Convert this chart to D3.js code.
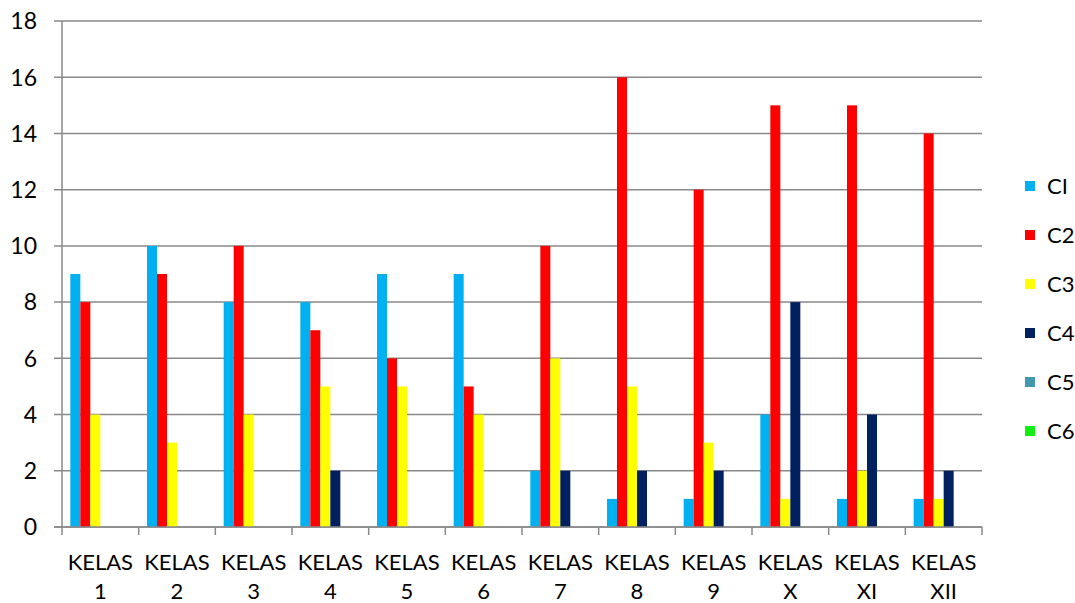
<!DOCTYPE html>
<html>
<head>
<meta charset="utf-8">
<script src="https://cdn.jsdelivr.net/npm/d3@7"></script>
<style>
  html, body { margin: 0; padding: 0; background: #fff; }
  svg { display: block; }
  text { font-family: Lato, "Open Sans", sans-serif; fill: #000; }
</style>
</head>
<body>
<svg id="chart" width="1075" height="603"></svg>
<script>
const categories = ["KELAS 1","KELAS 2","KELAS 3","KELAS 4","KELAS 5","KELAS 6","KELAS 7","KELAS 8","KELAS 9","KELAS X","KELAS XI","KELAS XII"];
const seriesNames = ["CI","C2","C3","C4","C5","C6"];
const c1 = [9,10,8,8,9,9,2,1,1,4,1,1];
const c2 = [8,9,10,7,6,5,10,16,12,15,15,14];
const c3 = [4,3,4,5,5,4,6,5,3,1,2,1];
const c4 = [0,0,0,2,0,0,2,2,2,8,4,2];
const c5 = [0,0,0,0,0,0,0,0,0,0,0,0];
const c6 = [0,0,0,0,0,0,0,0,0,0,0,0];
const yTicks = [0,2,4,6,8,10,12,14,16,18];
const colors = ["#00B0F0","#FF0000","#FFFF00","#002060","#4198AF","#11EE11"];

const seriesValues = [c1,c2,c3,c4,c5,c6];
const svg = d3.select("#chart");
const pLeft = 62, pRight = 982, pTop = 21, pBottom = 527;

const x = d3.scaleBand().domain(categories).range([pLeft, pRight]).padding(0);
const inner = d3.scaleBand().domain(seriesNames)
  .range([x.bandwidth()*0.1087, x.bandwidth()*(1-0.1087)]).padding(0);
const y = d3.scaleLinear().domain([0,18]).range([pBottom, pTop]);

// gridlines
svg.append("g").selectAll("line").data(yTicks).join("line")
  .attr("x1", pLeft - 8).attr("x2", pRight)
  .attr("y1", d => y(d)).attr("y2", d => y(d))
  .attr("stroke", "#898989").attr("stroke-width", 1.5);

// y labels
svg.append("g").selectAll("text").data(yTicks).join("text")
  .attr("x", 37).attr("y", d => y(d)).attr("dy", "0.36em")
  .attr("text-anchor", "end").style("font-size", "23px")
  .text(d => d);

// bars
seriesNames.forEach((s, si) => {
  svg.append("g").selectAll("rect").data(seriesValues[si]).join("rect")
    .attr("x", (d, i) => x(categories[i]) + inner(s))
    .attr("width", inner.bandwidth())
    .attr("y", d => y(d))
    .attr("height", d => y(0) - y(d))
    .attr("fill", colors[si]);
});

// y axis line
svg.append("line").attr("x1", pLeft).attr("x2", pLeft).attr("y1", pTop).attr("y2", pBottom)
  .attr("stroke", "#898989").attr("stroke-width", 1.5);
// x axis line
svg.append("line").attr("x1", pLeft - 8).attr("x2", pRight).attr("y1", pBottom).attr("y2", pBottom)
  .attr("stroke", "#898989").attr("stroke-width", 1.5);
// x ticks
const tickPos = categories.map(c => x(c)).concat([pRight]);
svg.append("g").selectAll("line").data(tickPos).join("line")
  .attr("x1", d => d).attr("x2", d => d).attr("y1", pBottom).attr("y2", pBottom + 8)
  .attr("stroke", "#898989").attr("stroke-width", 1.5);

// x labels
const xl = svg.append("g").selectAll("text").data(categories).join("text")
  .attr("x", d => x(d) + x.bandwidth()/2)
  .attr("text-anchor", "middle").style("font-size", "22px");
xl.append("tspan").attr("x", d => x(d) + x.bandwidth()/2).attr("y", 570)
  .text(d => d.split(" ")[0]);
xl.append("tspan").attr("x", d => x(d) + x.bandwidth()/2).attr("y", 599)
  .text(d => d.split(" ")[1]);

// legend
const lg = svg.append("g").selectAll("g").data(seriesNames).join("g")
  .attr("transform", (d, i) => `translate(1025, ${186 + i*49})`);
lg.append("rect").attr("x", 0).attr("y", -5).attr("width", 10).attr("height", 10)
  .attr("fill", (d, i) => colors[i]);
lg.append("text").attr("x", 22).attr("y", 0).attr("dy", "0.36em")
  .style("font-size", "22px").text(d => d);
</script>
</body>
</html>
